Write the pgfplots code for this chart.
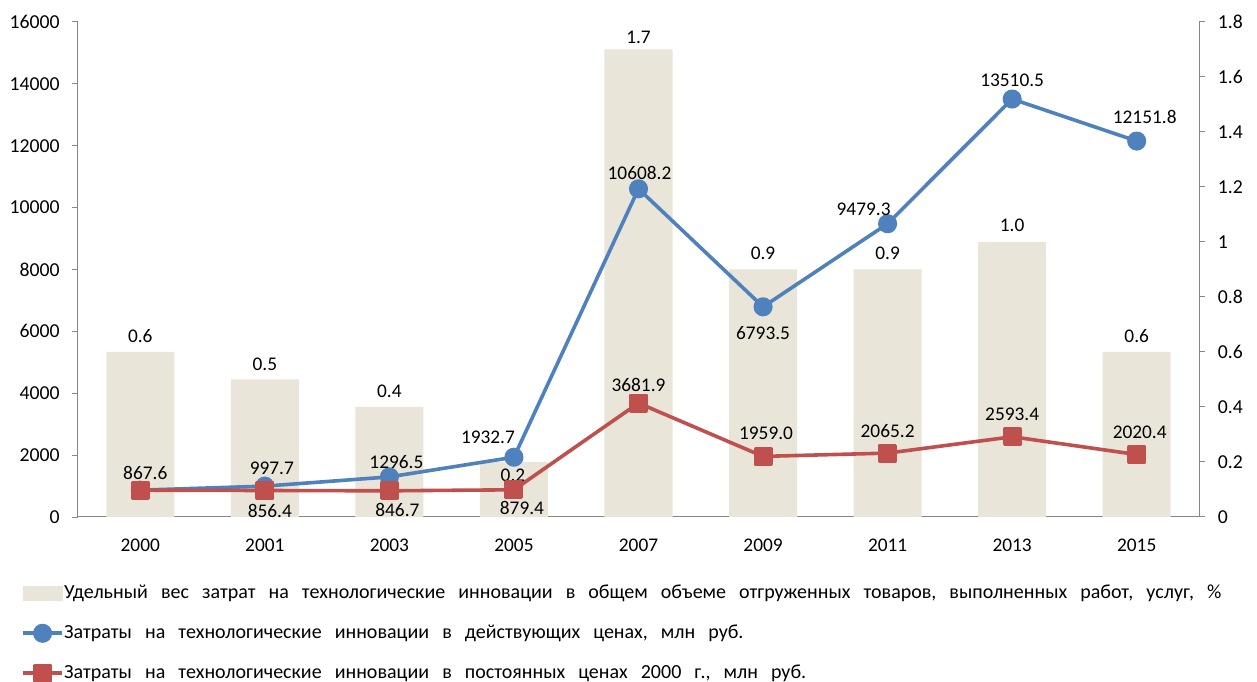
\documentclass[border=0pt]{standalone}
\usepackage{fontspec}
\setmainfont{Carlito}
\usepackage{pgfplots}
\pgfplotsset{compat=1.18}
\definecolor{barc}{RGB}{233,229,217}
\definecolor{blueL}{RGB}{79,129,189}
\definecolor{redL}{RGB}{192,80,77}
\definecolor{axgray}{RGB}{134,134,134}
\newcommand{\wsp}{\spaceskip=9.8pt\relax}
\pgfplotsset{
  common/.style={
    at={(0,0)}, anchor=south west, scale only axis,
    width=840.75pt, height=371.25pt,
    xmin=-0.5, xmax=8.5,
    /pgf/number format/assume math mode=true,
    /pgf/number format/set thousands separator={},
    scaled y ticks=false,
    tick align=outside, major tick length=4.5pt,
    axis line style={draw=axgray, line width=0.75pt, -},
    tick style={draw=axgray, line width=0.75pt},
  },
  lbl/.style={
    point meta=explicit symbolic, nodes near coords,
    visualization depends on={value \thisrow{dx}\as\dx},
    visualization depends on={value \thisrow{dy}\as\dy},
    nodes near coords style={anchor=center, text=black, inner sep=0pt,
      xshift=\dx*0.75pt, yshift=-\dy*0.75pt},
  },
}
\begin{document}
\fontsize{14.5}{17}\selectfont
\begin{tikzpicture}
\begin{axis}[common,
  ymin=0, ymax=1.8,
  axis x line*=bottom, axis y line*=right,
  xtick={0,...,8},
  xticklabels={2000,2001,2003,2005,2007,2009,2011,2013,2015},
  x tick style={draw=none},
  xticklabel style={inner sep=0pt, anchor=north, yshift=-12pt},
  ytick={0,0.2,0.4,0.6,0.8,1,1.2,1.4,1.6,1.8},
  yticklabels={0,0.2,0.4,0.6,0.8,1,1.2,1.4,1.6,1.8},
  yticklabel style={inner sep=0pt, anchor=west, xshift=9.5pt, font=\fontsize{14.8}{17}\selectfont},
]
\addplot[ybar, bar width=51pt, fill=barc, draw=none, lbl] table[x=x, y=y, meta=lab] {
x y lab dx dy
0 0.6 0.6 0 -16
1 0.5 0.5 0 -15
2 0.4 0.4 0 -16
3 0.2 0.2 -1 13
4 1.7 1.7 0 -12
5 0.9 0.9 0 -16
6 0.9 0.9 0 -16
7 1.0 1.0 0 -17
8 0.6 0.6 0 -16
};
\end{axis}
\begin{axis}[common,
  ymin=0, ymax=16000,
  axis x line=none, axis y line*=left,
  ytick={0,2000,4000,6000,8000,10000,12000,14000,16000},
  yticklabels={0,2000,4000,6000,8000,10000,12000,14000,16000},
  yticklabel style={inner sep=0pt, anchor=east, xshift=-9pt, font=\fontsize{14.8}{17}\selectfont},
  legend style={at={(0,0)}, anchor=north west, xshift=-42.75pt, yshift=-50.25pt,
    draw=none, fill=none, inner sep=0pt, row sep=16.5pt,
    cells={anchor=west},
    font=\fontsize{15}{18}\selectfont,
    nodes={inner sep=0pt, text height=10.5pt, text depth=3pt}},
  legend image code/.code={
    \draw[#1, mark repeat=2, mark phase=2, line width=2.7pt]
      plot coordinates {(0pt,0pt) (14.625pt,0pt) (29.25pt,0pt)};
    \path (29.5pt,0pt);},
]
\addlegendimage{legend image code/.code={
    \fill[barc] (0pt,-5.25pt) rectangle (29.25pt,5.25pt);
    \path (29.5pt,0pt);}}
\addlegendentry{\wsp Удельный вес затрат на технологические инновации в общем объеме отгруженных товаров, выполненных работ, услуг, \%}
\addplot[blueL, line width=2.7pt, line join=round, mark=*, mark size=5.8pt, mark options={solid}, lbl]
  table[x=x, y=y, meta=lab] {
x y lab dx dy
0 867.6 867.6 5 -17
1 997.7 997.7 7 -18
2 1296.5 1296.5 7 -15
3 1932.7 1932.7 -26 -20
4 10608.2 10608.2 1 -16
5 6793.5 6793.5 0 26
6 9479.3 9479.3 -24 -14
7 13510.5 13510.5 0 -19
8 12151.8 12151.8 8 -24
};
\addlegendentry{\wsp Затраты на технологические инновации в действующих ценах, млн руб.}
\addplot[redL, line width=2.7pt, line join=round, mark=square*, mark size=5.8pt, mark options={solid}]
  table[x=x, y=y] {
x y
0 867.6
1 856.4
2 846.7
3 879.4
4 3681.9
5 1959.0
6 2065.2
7 2593.4
8 2020.4
};
\addlegendentry{\wsp Затраты на технологические инновации в постоянных ценах 2000 г., млн руб.}
\addplot[draw=none, no marks, lbl, forget plot] table[x=x, y=y, meta=lab] {
x y lab dx dy
1 856.4 856.4 5 20
2 846.7 846.7 8 19
3 879.4 879.4 8 18
4 3681.9 3681.9 0 -18
5 1959.0 1959.0 3 -23
6 2065.2 2065.2 0 -22
7 2593.4 2593.4 0 -22
8 2020.4 2020.4 3 -22
};
\end{axis}
\pgfresetboundingbox
\path[use as bounding box] (-58.5pt,-123.75pt) rectangle (884.25pt,387.75pt);
\end{tikzpicture}
\end{document}
